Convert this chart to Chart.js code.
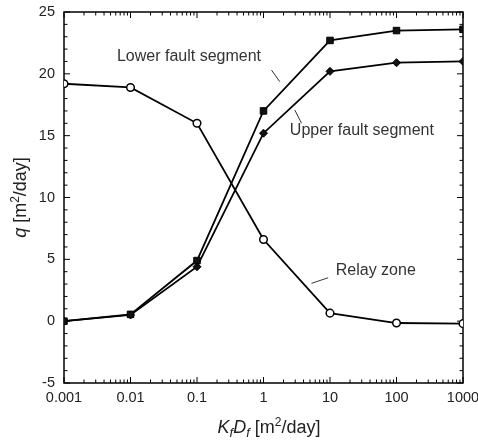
<!DOCTYPE html>
<html>
<head>
<meta charset="utf-8">
<script src="https://cdn.jsdelivr.net/npm/chart.js@4.4.0/dist/chart.umd.min.js"></script>
<style>
html, body { margin: 0; padding: 0; background: #fff; }
</style>
</head>
<body>
<canvas id="graf" width="478" height="444"></canvas>
<script>
// values
var kfdf = [0.001, 0.01, 0.1, 1, 10, 100, 1000];
var lowerFault = [0, 0.55, 4.9, 17.0, 22.7, 23.5, 23.6];
var upperFault = [0, 0.5, 4.4, 15.2, 20.2, 20.9, 21.0];
var relayZone = [19.2, 18.9, 16.0, 6.6, 0.65, -0.15, -0.2];

var xTicks = [0.001, 0.01, 0.1, 1, 10, 100, 1000];
var yTicks = [-5, 0, 5, 10, 15, 20, 25];

// curve labels (data units: text start / baseline) and their leader lines
var noteText = ['Lower fault segment', 'Upper fault segment', 'Relay zone'];
var noteAt = [[0.00625, 21.0], [2.49, 15.05], [12.2, 3.73]];
var noteLine = [[[1.32, 20.3], [1.76, 19.36]], [[2.96, 17.07], [3.73, 16.0]], [[5.27, 3.06], [9.38, 3.51]]];

var FONT = '"Liberation Sans", Arial, Helvetica, sans-serif';

function pts(ys) {
  return kfdf.map(function (x, i) { return { x: x, y: ys[i] }; });
}

// draws mixed text (italic / sub / sup) centred on x, baseline y
function richText(ctx, parts, x, y) {
  var w = 0;
  parts.forEach(function (p) {
    ctx.font = (p.it ? 'italic ' : '') + (p.sz || 18) + 'px ' + FONT;
    p.w = ctx.measureText(p.t).width;
    w += p.w;
  });
  var cx = x - w / 2;
  ctx.textAlign = 'left';
  ctx.textBaseline = 'alphabetic';
  parts.forEach(function (p) {
    ctx.font = (p.it ? 'italic ' : '') + (p.sz || 18) + 'px ' + FONT;
    ctx.fillText(p.t, cx, y + (p.dy || 0));
    cx += p.w;
  });
}

var frame = {
  id: 'frame',
  beforeDatasetsDraw: function (chart) {
    var ctx = chart.ctx, a = chart.chartArea;
    var xs = chart.scales.x, ys = chart.scales.y;
    ctx.save();
    ctx.strokeStyle = '#000';
    ctx.lineWidth = 1.5;
    ctx.strokeRect(a.left, a.top, a.right - a.left, a.bottom - a.top);

    // inward ticks on all four sides
    ctx.lineWidth = 1;
    ctx.beginPath();
    for (var d = -3; d <= 3; d++) {
      for (var k = 1; k <= 9; k++) {
        if (d == 3 && k > 1) break;
        var px = xs.getPixelForValue(k * Math.pow(10, d));
        var len = k == 1 ? 6 : 3.5;
        ctx.moveTo(px, a.bottom); ctx.lineTo(px, a.bottom - len);
        ctx.moveTo(px, a.top); ctx.lineTo(px, a.top + len);
      }
    }
    for (var v = -5; v <= 25; v++) {
      var py = ys.getPixelForValue(v);
      var l = v % 5 == 0 ? 6 : 3.5;
      ctx.moveTo(a.left, py); ctx.lineTo(a.left + l, py);
      ctx.moveTo(a.right, py); ctx.lineTo(a.right - l, py);
    }
    ctx.stroke();

    // curve labels
    ctx.strokeStyle = '#333';
    ctx.fillStyle = '#333';
    ctx.font = '16px ' + FONT;
    ctx.textAlign = 'left';
    ctx.textBaseline = 'alphabetic';
    noteText.forEach(function (t, i) {
      ctx.fillText(t, xs.getPixelForValue(noteAt[i][0]), ys.getPixelForValue(noteAt[i][1]));
      var p = noteLine[i];
      ctx.beginPath();
      ctx.moveTo(xs.getPixelForValue(p[0][0]), ys.getPixelForValue(p[0][1]));
      ctx.lineTo(xs.getPixelForValue(p[1][0]), ys.getPixelForValue(p[1][1]));
      ctx.stroke();
    });
    ctx.restore();
  },
  afterDraw: function (chart) {
    var ctx = chart.ctx, a = chart.chartArea;
    ctx.save();
    ctx.fillStyle = '#222';
    // x axis title
    richText(ctx, [
      { t: 'K', it: true },
      { t: 'f', it: true, sz: 13, dy: 4 },
      { t: 'D', it: true },
      { t: 'f', it: true, sz: 13, dy: 4 },
      { t: ' [m' },
      { t: '2', sz: 12, dy: -7 },
      { t: '/day]' }
    ], 269, 433);
    // y axis title
    ctx.translate(25.5, (a.top + a.bottom) / 2);
    ctx.rotate(-Math.PI / 2);
    richText(ctx, [
      { t: 'q', it: true },
      { t: ' [m' },
      { t: '2', sz: 12, dy: -7 },
      { t: '/day]' }
    ], 0, 0);
    ctx.restore();
  }
};

var tickFont = { family: FONT, size: 14.5 };

var config = {
  type: 'line',
  data: {
    datasets: [{
      label: 'Lower fault segment',
      data: pts(lowerFault),
      borderColor: '#000',
      borderWidth: 1.8,
      pointStyle: 'rect',
      pointRadius: 4.6,
      pointBackgroundColor: '#111',
      pointBorderColor: '#000',
      pointBorderWidth: 1,
      tension: 0
    }, {
      label: 'Upper fault segment',
      data: pts(upperFault),
      borderColor: '#000',
      borderWidth: 1.8,
      pointStyle: 'rectRot',
      pointRadius: 4,
      pointBackgroundColor: '#111',
      pointBorderColor: '#000',
      pointBorderWidth: 1,
      tension: 0
    }, {
      label: 'Relay zone',
      data: pts(relayZone),
      borderColor: '#000',
      borderWidth: 1.8,
      pointStyle: 'circle',
      pointRadius: 3.8,
      pointBackgroundColor: '#fff',
      pointBorderColor: '#000',
      pointBorderWidth: 1.5,
      tension: 0
    }]
  },
  options: {
    responsive: false,
    animation: false,
    devicePixelRatio: 1,
    layout: { padding: { left: 0, right: 15, top: 12, bottom: 0 } },
    plugins: {
      legend: { display: false },
      tooltip: { enabled: false }
    },
    scales: {
      x: {
        type: 'logarithmic',
        min: 0.001,
        max: 1000,
        grid: { display: false, drawTicks: false },
        border: { display: false },
        ticks: {
          font: tickFont, color: '#222', padding: 6,
          maxRotation: 0, autoSkip: false,
          callback: function (v) { return String(v); }
        },
        afterBuildTicks: function (s) { s.ticks = xTicks.map(function (v) { return { value: v }; }); },
        afterFit: function (s) { s.height = 61; s.paddingLeft = 0; s.paddingRight = 0; }
      },
      y: {
        type: 'linear',
        min: -5,
        max: 25,
        grid: { display: false, drawTicks: false },
        border: { display: false },
        ticks: { font: tickFont, color: '#222', padding: 9 },
        afterBuildTicks: function (s) { s.ticks = yTicks.map(function (v) { return { value: v }; }); },
        afterFit: function (s) { s.width = 64; s.paddingTop = 0; s.paddingBottom = 0; }
      }
    }
  },
  plugins: [frame]
};

var graf = new Chart(document.getElementById('graf'), config);
</script>
</body>
</html>
